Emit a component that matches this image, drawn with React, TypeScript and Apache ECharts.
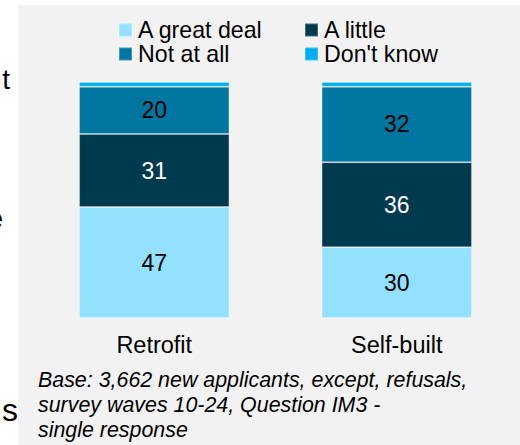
import React, { useEffect, useRef } from "react";
import * as echarts from "echarts";

const categories = ["Retrofit", "Self-built"];
const seriesNames = ["A great deal", "A little", "Not at all", "Don't know"];
const greatDeal = [47, 30];
const little = [31, 36];
const notAtAll = [20, 32];
const dontKnow = [2, 2];
const colors = ["#93E1FF", "#003A4F", "#0076A1", "#00AEEF"];
const labelColors = ["#000000", "#FFFFFF", "#000000", "#000000"];
const showLabels = [true, true, true, false];
const footnote = [
  "Base: 3,662 new applicants, except, refusals,",
  "survey waves 10-24, Question IM3 -",
  "single response",
];

const FONT = "'Liberation Sans', Arial, sans-serif";

export default function App() {
  const ref = useRef<HTMLDivElement>(null);
  useEffect(() => {
    if (!ref.current) return;
    const chart = echarts.init(ref.current, null, { renderer: "svg" });
    const values = [greatDeal, little, notAtAll, dontKnow];
    const legendPos = [
      { left: 118, top: 18 },
      { left: 304, top: 18 },
      { left: 118, top: 42 },
      { left: 304, top: 42 },
    ];
    chart.setOption({
      animation: false,
      backgroundColor: "#ffffff",
      textStyle: { fontFamily: FONT },
      graphic: [
        {
          type: "rect",
          z: -10,
          silent: true,
          shape: { x: 18, y: 5, width: 502, height: 440 },
          style: { fill: "#F2F2F2" },
        },
        {
          type: "text",
          x: 10,
          y: 79,
          style: { text: "t", fontSize: 28, fontFamily: FONT, fill: "#000", align: "right", verticalAlign: "middle" },
        },
        {
          type: "text",
          x: 3,
          y: 218,
          style: { text: "e", fontSize: 28, fontFamily: FONT, fill: "#000", align: "right", verticalAlign: "middle" },
        },
        {
          type: "text",
          x: 18,
          y: 410,
          style: { text: "s", fontSize: 32, fontFamily: FONT, fill: "#000", align: "right", verticalAlign: "middle" },
        },
        {
          type: "text",
          x: 38,
          y: 367,
          style: {
            text: footnote.join("\n"),
            fontSize: 21.4,
            lineHeight: 25,
            fontStyle: "italic",
            fontFamily: FONT,
            fill: "#000",
            align: "left",
            verticalAlign: "top",
          },
        },
      ],
      legend: seriesNames.map((n, i) => ({
        data: [n],
        left: legendPos[i].left,
        top: legendPos[i].top,
        padding: 0,
        itemWidth: 13,
        itemHeight: 13,
        itemGap: 0,
        icon: "rect",
        selectedMode: false,
        textStyle: { fontSize: 23.2, lineHeight: 24, color: "#000", fontFamily: FONT, padding: [0, 0, 0, 1] },
      })),
      grid: { left: 33, right: 2, top: 82, height: 236 },
      xAxis: {
        type: "category",
        data: categories,
        axisLine: { show: false },
        axisTick: { show: false },
        axisLabel: { fontSize: 23.5, color: "#000", margin: 15, fontFamily: FONT },
      },
      yAxis: { type: "value", min: 0, max: 100, show: false, splitLine: { show: false } },
      series: seriesNames.map((n, i) => ({
        name: n,
        type: "bar",
        stack: "total",
        barCategoryGap: "38%",
        data: values[i],
        itemStyle: { color: colors[i], borderColor: "rgba(255,255,255,0.25)", borderWidth: 1 },
        label: {
          show: showLabels[i],
          position: "inside",
          fontSize: 23,
          color: labelColors[i],
          fontFamily: FONT,
        },
      })),
    });
    return () => chart.dispose();
  }, []);
  return (
    <div
      ref={ref}
      style={{ position: "fixed", left: 0, top: 0, width: 520, height: 445 }}
    />
  );
}
